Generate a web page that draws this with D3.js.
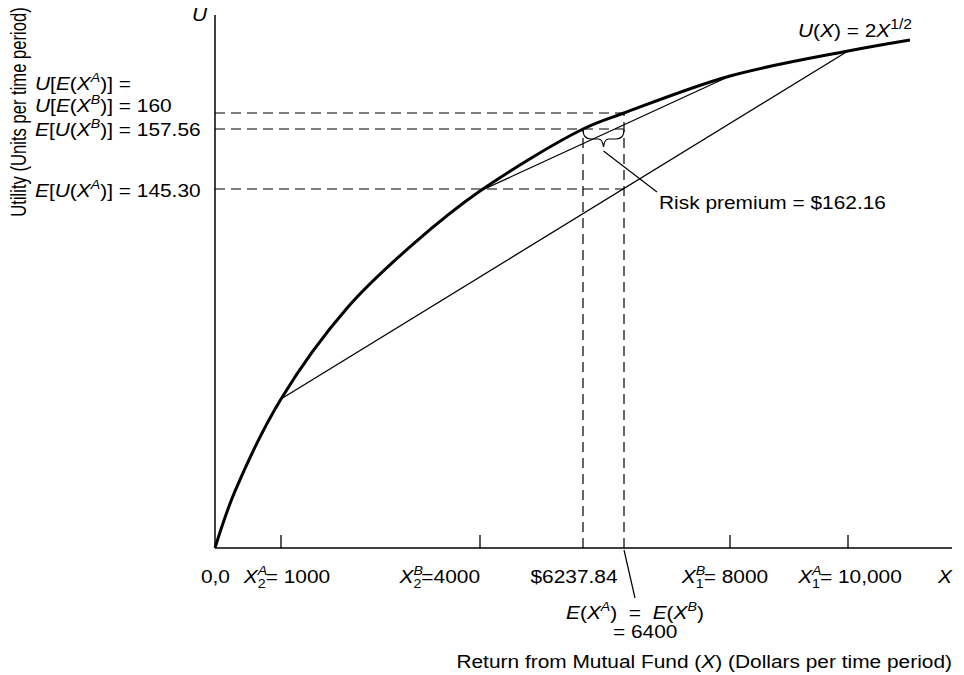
<!DOCTYPE html>
<html>
<head>
<meta charset="utf-8">
<script src="https://cdn.jsdelivr.net/npm/d3@7"></script>
<style>
  body { margin: 0; background: #fff; }
  text { font-family: "Liberation Sans", Arial, sans-serif; fill: #000; white-space: pre; }
</style>
</head>
<body>
<svg id="chart" width="964" height="675"></svg>
<script>
// knots of the utility curve U(X) = 2X^(1/2), as drawn
const curveX = [0, 300, 1000, 2000, 3000, 4000, 6237.84, 6400, 8000, 10000, 11000];
const curveU = [0, 23.9, 63.25, 91.0, 110.5, 126.49, 157.56, 160, 178.89, 200, 209.76];

// outcomes of the two mutual funds
const fundAX = [1000, 10000];
const fundAU = [63.25, 200];
const fundBX = [4000, 8000];
const fundBU = [126.49, 178.89];

const tickX = [1000, 4000, 8000, 10000];
const expectedX = 6400;
const certaintyX = 6237.84;
const utilLevels = [160, 157.56, 145.30];

const svg = d3.select("#chart");
const SX = 1.13;     // type in the original is a bit wide
const FS = 18.5;

// the drawing is schematic, so both scales are piecewise linear
const x = d3.scaleLinear()
  .domain([0, 1000, 4000, 6237.84, 6400, 8000, 10000, 11000])
  .range([215, 281, 480, 583, 624, 730, 848, 910]);
const y = d3.scaleLinear()
  .domain([0, 63.25, 126.49, 145.30, 157.56, 160, 178.89, 200, 209.76])
  .range([548, 399, 191, 189, 129, 113, 76, 51, 40]);

// text helper: parts are {s, i, sup, sub, under}
function rich(px, py, parts, anchor = "start", size = FS) {
  const g = svg.append("g").attr("transform", `translate(${px},${py}) scale(${SX},1)`);
  const t = g.append("text").attr("text-anchor", anchor).style("font-size", size + "px");
  let shift = 0, lastW = 0;
  parts.forEach((p) => {
    const target = p.sup ? -0.42 * size : p.sub ? 0.28 * size : 0;
    const ts = t.append("tspan").text(p.s).attr("dy", target - shift);
    if (p.under) ts.attr("dx", -lastW);
    if (p.i) ts.style("font-style", "italic");
    if (p.sup || p.sub) ts.style("font-size", (p.big ? 0.75 : 0.68) * size + "px");
    shift = target;
    lastW = ts.node().getComputedTextLength();
  });
  return t;
}
const I = (s) => ({ s, i: true });
const R = (s) => ({ s });
const SUP = (s, i = true) => ({ s, i, sup: true });
const SUB = (s) => ({ s, sub: true, under: true });

// axes
svg.append("line")
  .attr("x1", x(0)).attr("y1", 15).attr("x2", x(0)).attr("y2", y(0))
  .attr("stroke", "#000").attr("stroke-width", 1.5);
svg.append("line")
  .attr("x1", x(0)).attr("y1", y(0)).attr("x2", 952).attr("y2", y(0))
  .attr("stroke", "#000").attr("stroke-width", 1.5);

tickX.forEach((v) => {
  svg.append("line")
    .attr("x1", x(v)).attr("x2", x(v))
    .attr("y1", y(0)).attr("y2", y(0) - 13)
    .attr("stroke", "#000").attr("stroke-width", 1.3);
});

// dashed guide lines
const dash = "10,6";
utilLevels.forEach((u) => {
  svg.append("line")
    .attr("x1", x(0)).attr("x2", x(expectedX))
    .attr("y1", y(u)).attr("y2", y(u))
    .attr("stroke", "#000").attr("stroke-width", 1.2)
    .attr("stroke-dasharray", dash);
});
svg.append("line")
  .attr("x1", x(certaintyX)).attr("x2", x(certaintyX))
  .attr("y1", y(0)).attr("y2", y(utilLevels[1]))
  .attr("stroke", "#000").attr("stroke-width", 1.2).attr("stroke-dasharray", dash);
svg.append("line")
  .attr("x1", x(expectedX)).attr("x2", x(expectedX))
  .attr("y1", y(0)).attr("y2", y(utilLevels[0]))
  .attr("stroke", "#000").attr("stroke-width", 1.2).attr("stroke-dasharray", dash);

// chords for the two funds
[[fundAX, fundAU], [fundBX, fundBU]].forEach(([xs, us]) => {
  svg.append("line")
    .attr("x1", x(xs[0])).attr("y1", y(us[0]))
    .attr("x2", x(xs[1])).attr("y2", y(us[1]))
    .attr("stroke", "#000").attr("stroke-width", 1.3);
});

// utility curve
const line = d3.line()
  .x((d, i) => x(curveX[i]))
  .y((d) => y(d))
  .curve(d3.curveCatmullRom.alpha(0.5));
svg.append("path")
  .attr("d", line(curveU))
  .attr("fill", "none")
  .attr("stroke", "#000")
  .attr("stroke-width", 3);

// risk premium brace
const bx0 = x(certaintyX), bx1 = x(expectedX), by = y(utilLevels[1]) + 1;
const bm = (bx0 + bx1) / 2;
svg.append("path")
  .attr("d", `M${bx0},${by} q0,9 8,9 H${bm - 5} q4,0 5,8 q1,-8 5,-8 H${bx1 - 8} q8,0 8,-9`)
  .attr("fill", "none").attr("stroke", "#000").attr("stroke-width", 1.2);
svg.append("line")
  .attr("x1", bm).attr("y1", by + 21).attr("x2", 657).attr("y2", 192)
  .attr("stroke", "#000").attr("stroke-width", 1.2);
rich(659, 209, [R("Risk premium = $162.16")]);

// leader to E(X) label
svg.append("line")
  .attr("x1", x(expectedX)).attr("y1", y(0) + 2).attr("x2", 635).attr("y2", 598)
  .attr("stroke", "#000").attr("stroke-width", 1.2);
rich(566, 619, [I("E"), R("("), I("X"), SUP("A"), R(")  =  "), I("E"), R("("), I("X"), SUP("B"), R(")")]);
rich(613, 638, [R("= 6400")]);

// y labels
rich(35, y(160) - 23, [I("U"), R("["), I("E"), R("("), I("X"), SUP("A"), R(")] =")]);
rich(35, y(160) - 1, [I("U"), R("["), I("E"), R("("), I("X"), SUP("B"), R(")] = 160")]);
rich(35, y(157.56) + 7, [I("E"), R("["), I("U"), R("("), I("X"), SUP("B"), R(")] = 157.56")]);
rich(35, y(145.30) + 8, [I("E"), R("["), I("U"), R("("), I("X"), SUP("A"), R(")] = 145.30")]);
rich(192, 21, [I("U")]);

// x labels
const xb = 583;
rich(x(0) + 15, xb, [R("0,0")], "end");
rich(x(1000) + 6, xb, [I("X"), SUP("A"), SUB("2"), R("= 1000")], "middle");
rich(x(4000), xb, [I("X"), SUP("B"), SUB("2"), R("=4000")], "end");
rich(x(certaintyX) - 9, xb, [R("$6237.84")], "middle");
rich(x(8000) - 5, xb, [I("X"), SUP("B"), SUB("1"), R("= 8000")], "middle");
rich(x(10000) + 2, xb, [I("X"), SUP("A"), SUB("1"), R("= 10,000")], "middle");
rich(952, xb, [I("X")], "end");

// curve label
rich(912, 37, [I("U"), R("("), I("X"), R(") = 2"), I("X"), { s: "1/2", sup: true, big: true }], "end");

// axis titles
rich(952, 668, [R("Return from Mutual Fund ("), I("X"), R(") (Dollars per time period)")], "end");
svg.append("g")
  .attr("transform", "translate(26,112) scale(1.3,1) rotate(-90)")
  .append("text")
  .attr("text-anchor", "middle")
  .style("font-size", "16.6px")
  .text("Utility (Units per time period)");
</script>
</body>
</html>
